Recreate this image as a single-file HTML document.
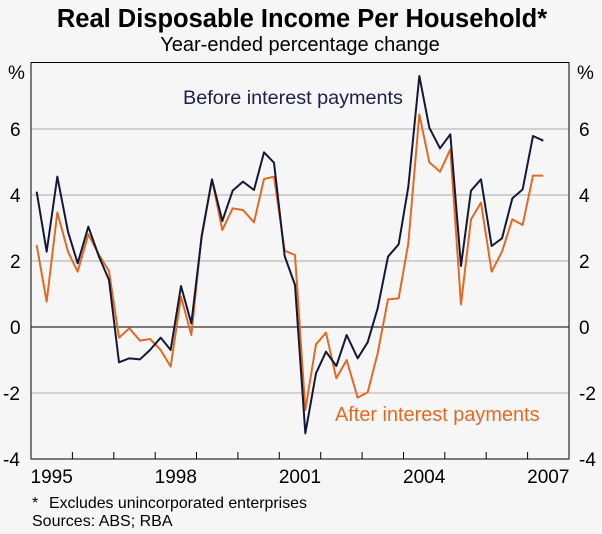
<!DOCTYPE html>
<html><head><meta charset="utf-8"><style>
html,body{margin:0;padding:0;background:#f6f6f6;}
svg{display:block;font-family:"Liberation Sans",Arial,sans-serif;}
</style></head><body>
<svg width="602" height="534" viewBox="0 0 602 534" xmlns="http://www.w3.org/2000/svg">
<rect width="602" height="534" fill="#f6f6f6"/>
<text x="302" y="27" text-anchor="middle" font-size="25.5" font-weight="bold" fill="#000">Real Disposable Income Per Household*</text>
<text x="300" y="51" text-anchor="middle" font-size="20" fill="#000">Year-ended percentage change</text>
<g stroke-width="1">
<line x1="31" y1="129" x2="569" y2="129" stroke="#aaa"/>
<line x1="31" y1="195" x2="569" y2="195" stroke="#aaa"/>
<line x1="31" y1="261" x2="569" y2="261" stroke="#aaa"/>
<line x1="31" y1="393" x2="569" y2="393" stroke="#c8a8a0"/>
<line x1="31" y1="327" x2="569" y2="327" stroke="#000"/>
</g>
<g stroke="#000" stroke-width="1">
<line x1="72.4" y1="459" x2="72.4" y2="452"/><line x1="113.8" y1="459" x2="113.8" y2="452"/><line x1="155.2" y1="459" x2="155.2" y2="452"/><line x1="196.5" y1="459" x2="196.5" y2="452"/><line x1="237.9" y1="459" x2="237.9" y2="452"/><line x1="279.3" y1="459" x2="279.3" y2="452"/><line x1="320.7" y1="459" x2="320.7" y2="452"/><line x1="362.1" y1="459" x2="362.1" y2="452"/><line x1="403.5" y1="459" x2="403.5" y2="452"/><line x1="444.8" y1="459" x2="444.8" y2="452"/><line x1="486.2" y1="459" x2="486.2" y2="452"/><line x1="527.6" y1="459" x2="527.6" y2="452"/>
</g>
<rect x="31" y="62.5" width="538" height="396.5" fill="none" stroke="#000" stroke-width="1"/>
<g font-size="19" fill="#000">
<text x="8" y="79">%</text><text x="577" y="79">%</text>
<text x="10" y="136">6</text><text x="10" y="202">4</text><text x="10" y="268">2</text><text x="10" y="334">0</text><text x="3" y="400">-2</text><text x="3" y="466">-4</text>
<text x="579" y="136">6</text><text x="579" y="202">4</text><text x="579" y="268">2</text><text x="579" y="334">0</text><text x="579" y="400">-2</text><text x="579" y="466">-4</text>
<text x="51.7" y="483" text-anchor="middle">1995</text>
<text x="175.8" y="483" text-anchor="middle">1998</text>
<text x="300" y="483" text-anchor="middle">2001</text>
<text x="424.2" y="483" text-anchor="middle">2004</text>
<text x="548.3" y="483" text-anchor="middle">2007</text>
</g>
<g fill="none" stroke-width="2" stroke-linejoin="round">
<g transform="translate(0,55) scale(0.33333)">
<polyline stroke="#e06a24" stroke-width="6" points="110,570 140,740 172,472 204,590 233,650 265,538 297,600 327,648 357,848 388,820 420,857 450,852 482,885 512,935 543,725 574,840 605,540 636,373 667,525 698,460 729,465 762,502 792,372 822,365 854,587 885,600 916,1065 948,868 978,833 1009,970 1040,915 1073,1028 1103,1012 1133,895 1164,733 1196,730 1225,565 1258,178 1288,322 1320,350 1351,283 1383,748 1413,493 1443,443 1475,650 1506,590 1537,493 1568,510 1599,362 1630,362"/>
<polyline stroke="#141838" stroke-width="6" points="110,410 140,590 172,365 204,530 233,625 265,515 297,605 327,675 357,922 388,910 420,913 450,885 482,848 512,885 543,693 574,805 605,545 636,373 667,498 698,407 729,380 762,405 792,292 822,323 854,603 885,690 916,1135 948,955 978,890 1009,933 1040,840 1073,910 1103,862 1133,760 1164,605 1196,568 1225,395 1258,63 1288,218 1320,280 1351,238 1383,633 1413,407 1443,373 1475,573 1506,550 1537,430 1568,403 1599,243 1630,257"/>
</g>
</g>
<text x="183" y="104" font-size="19.8" fill="#1c1f4a">Before interest payments</text>
<text x="335" y="421" font-size="19.9" fill="#e06a24">After interest payments</text>
<text x="32" y="508" font-size="16" fill="#000">*</text>
<text x="49" y="508" font-size="15.9" fill="#000">Excludes unincorporated enterprises</text>
<text x="32" y="526" font-size="16" fill="#000">Sources: ABS; RBA</text>
</svg>
</body></html>
